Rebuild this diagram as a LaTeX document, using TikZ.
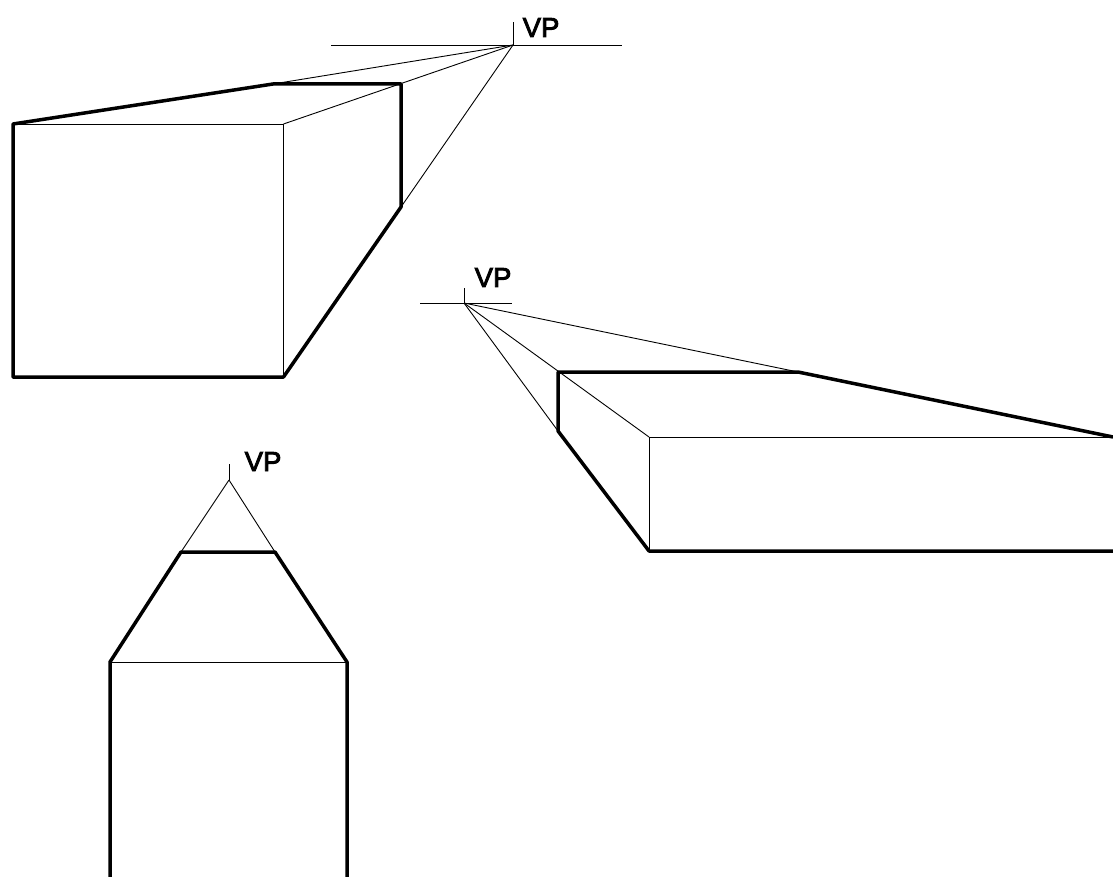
\documentclass[tikz,border=0pt]{standalone}
\usepackage{fontspec}
\setmainfont{Liberation Sans}
\newfontfamily\vpfont[FakeBold=3]{Liberation Sans}
\usetikzlibrary{calc}

\tikzset{
  thinline/.style={draw,line width=0.9pt},
  thickline/.style={draw,line width=3.5pt,line join=round},
  vplabel/.style={inner sep=0pt,anchor=base west,font=\vpfont\fontsize{27.5}{27.5}\selectfont}
}

\begin{document}
\begin{tikzpicture}[x=1pt,y=-1pt]

  \useasboundingbox (0,0) rectangle (1113,877);

  \coordinate (Avp)      at (513,45);
  \coordinate (Avp_l)    at (331,45);
  \coordinate (Avp_r)    at (622,45);
  \coordinate (Avp_top)  at (513,22);
  \coordinate (A_tl)     at (13,124);
  \coordinate (A_tr)     at (283.5,124);
  \coordinate (A_br)     at (283.5,377);
  \coordinate (A_bl)     at (13,377);
  \coordinate (A_bk_l)   at (273,84);
  \coordinate (A_bk_r)   at (401,84);
  \coordinate (A_bk_b)   at (401,207);

  \coordinate (Bvp)      at (464,303);
  \coordinate (Bvp_l)    at (420,303);
  \coordinate (Bvp_r)    at (512,303);
  \coordinate (Bvp_top)  at (464,288);
  \coordinate (B_tl)     at (649,437);
  \coordinate (B_tr)     at (1113,437);
  \coordinate (B_bl)     at (649,551);
  \coordinate (B_br)     at (1113,551);
  \coordinate (B_bk_l)   at (558,372);
  \coordinate (B_bk_r)   at (798,372);
  \coordinate (B_bk_b)   at (558,431);

  \coordinate (Cvp)      at (229,480);
  \coordinate (Cvp_top)  at (229,464);
  \coordinate (C_tl)     at (110,662);
  \coordinate (C_tr)     at (347,662);
  \coordinate (C_bl)     at (110,877);
  \coordinate (C_br)     at (347,877);
  \coordinate (C_bk_l)   at (181,552);
  \coordinate (C_bk_r)   at (275,552);

  \node [vplabel] (Alab) at (522.5,37) {VP};
  \node [vplabel] (Blab) at (474.5,287) {VP};
  \node [vplabel] (Clab) at (244.5,471) {VP};

  \path [thinline]
    (Avp_l)  edge (Avp_r)
    (Avp)    edge (Avp_top)
    (A_tl)   edge (A_tr)
    (A_tr)   edge (A_br)
    (A_bk_l) edge (Avp)
    (A_tr)   edge (Avp)
    (A_bk_b) edge (Avp);

  \path [thinline]
    (Bvp_l)  edge (Bvp_r)
    (Bvp)    edge (Bvp_top)
    (B_tl)   edge (B_tr)
    (B_tl)   edge (B_bl)
    (B_bk_r) edge (Bvp)
    (B_tl)   edge (Bvp)
    (B_bk_b) edge (Bvp);

  \path [thinline]
    (Cvp)    edge (Cvp_top)
    (C_tl)   edge (C_tr)
    (C_bk_l) edge (Cvp)
    (C_bk_r) edge (Cvp);

  \path [thickline] (A_bl) -- (A_tl) -- (A_bk_l) -- (A_bk_r) -- (A_bk_b) -- (A_br) -- cycle;
  \path [thickline] (B_tr) -- (B_bk_r) -- (B_bk_l) -- (B_bk_b) -- (B_bl) -- (B_br);
  \path [thickline] (C_bl) -- (C_tl) -- (C_bk_l) -- (C_bk_r) -- (C_tr) -- (C_br);

\end{tikzpicture}
\end{document}
